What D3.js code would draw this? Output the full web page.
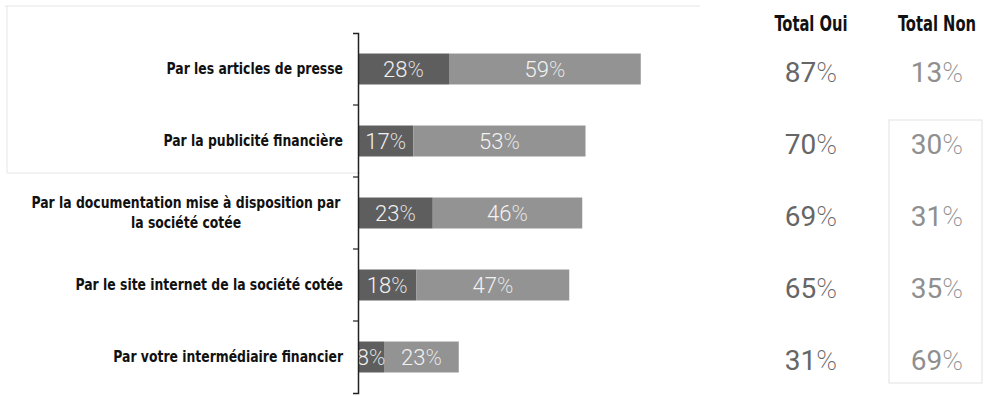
<!DOCTYPE html>
<html>
<head>
<meta charset="utf-8">
<script src="https://cdn.jsdelivr.net/npm/d3@7"></script>
<style>
  html, body { margin: 0; padding: 0; background: #fff; }
  svg { display: block; }
</style>
</head>
<body>
<svg id="chart" width="984" height="396"></svg>
<script>
// Survey answers: how investors get informed about listed companies
const categories = [
  "Par les articles de presse",
  "Par la publicité financière",
  "Par la documentation mise à disposition par|la société cotée",
  "Par le site internet de la société cotée",
  "Par votre intermédiaire financier"
];
const ouiTout = [28, 17, 23, 18, 8];     // dark segment
const ouiPlutot = [59, 53, 46, 47, 23];  // light segment
const totalOui = [87, 70, 69, 65, 31];
const totalNon = [13, 30, 31, 35, 69];
const columnHeaders = ["Total Oui", "Total Non"];

const svg = d3.select("#chart");
const labelFont = "'DejaVu Sans Condensed', 'DejaVu Sans', sans-serif";
const numFont = "Roboto, 'Open Sans', sans-serif";
const LABEL_SX = 0.89;   // narrow the bold labels horizontally
const HEAD_SX = 0.78;

// faint page frame lines
svg.append("path")
  .attr("d", "M5,6H700M7,6V173M7,173H360")
  .attr("fill", "none").attr("stroke", "#e6e6e6").attr("stroke-width", 1);

const x = d3.scaleLinear().domain([0, 100]).range([358, 683]);
const padIn = 0.57;
const y = d3.scaleBand()
  .domain(categories)
  .range([33, 393])
  .paddingInner(padIn)
  .paddingOuter(padIn / 2);

const rows = categories.map((c, i) => ({ c, a: ouiTout[i], b: ouiPlutot[i] }));

// bars
const g = svg.append("g");
g.selectAll("rect.dark").data(rows).join("rect")
  .attr("class", "dark")
  .attr("x", x(0)).attr("y", d => y(d.c))
  .attr("width", d => x(d.a) - x(0)).attr("height", y.bandwidth())
  .attr("fill", "#5e5e5e");
g.selectAll("rect.light").data(rows).join("rect")
  .attr("class", "light")
  .attr("x", d => x(d.a)).attr("y", d => y(d.c))
  .attr("width", d => x(d.a + d.b) - x(d.a)).attr("height", y.bandwidth())
  .attr("fill", "#939393");

// value with a thin percent sign
const pct = (sel, v) => {
  sel.append("tspan").text(v);
  sel.append("tspan").attr("font-weight", 200).text("%");
};

// labels inside bars
g.selectAll("text.va").data(rows).join("text")
  .attr("class", "va")
  .attr("x", d => (x(0) + x(d.a)) / 2)
  .attr("y", d => y(d.c) + y.bandwidth() / 2)
  .attr("dy", "0.36em").attr("text-anchor", "middle")
  .attr("font-family", numFont).attr("font-size", 22).attr("font-weight", 300)
  .attr("fill", "#f2f2f2")
  .each(function (d) { pct(d3.select(this), d.a); });
g.selectAll("text.vb").data(rows).join("text")
  .attr("class", "vb")
  .attr("x", d => (x(d.a) + x(d.a + d.b)) / 2)
  .attr("y", d => y(d.c) + y.bandwidth() / 2)
  .attr("dy", "0.36em").attr("text-anchor", "middle")
  .attr("font-family", numFont).attr("font-size", 22).attr("font-weight", 300)
  .attr("fill", "#f2f2f2")
  .each(function (d) { pct(d3.select(this), d.b); });

// axis: vertical line with ticks at band boundaries
const axis = d3.axisLeft(y).tickSizeInner(0).tickSizeOuter(5).tickFormat("");
const ax = svg.append("g").attr("transform", `translate(${x(0)},0)`).call(axis);
ax.select(".domain").attr("stroke", "#222").attr("stroke-width", 1.5);
const half = y.step() * padIn / 2;
ax.selectAll("line.bound").data(categories.slice(1)).join("line")
  .attr("class", "bound")
  .attr("x1", -5).attr("x2", 0)
  .attr("y1", d => y(d) - half).attr("y2", d => y(d) - half)
  .attr("stroke", "#222").attr("stroke-width", 1.2);

// category labels
svg.append("g").selectAll("text").data(categories).join("text")
  .attr("font-family", labelFont).attr("font-weight", "bold")
  .attr("font-size", 15.5).attr("fill", "#111")
  .each(function (c) {
    const t = d3.select(this);
    const lines = c.split("|");
    const cy = y(c) + y.bandwidth() / 2;
    if (lines.length === 1) {
      t.attr("text-anchor", "end")
        .attr("transform", `translate(343,${cy}) scale(${LABEL_SX},1)`)
        .attr("dy", "0.35em").text(c);
    } else {
      t.attr("text-anchor", "middle")
        .attr("transform", `translate(186,${cy}) scale(${LABEL_SX},1)`);
      lines.forEach((l, k) => {
        t.append("tspan").attr("x", 0)
          .attr("y", (k - (lines.length - 1) / 2) * 20)
          .attr("dy", "0.35em").text(l);
      });
    }
  });

// totals columns
const colX = [811, 937];
svg.append("rect")
  .attr("x", 889).attr("y", 120).attr("width", 93).attr("height", 263)
  .attr("fill", "none").attr("stroke", "#e2e2e2");

svg.append("g").selectAll("text").data(columnHeaders).join("text")
  .attr("transform", (d, i) => `translate(${colX[i]},31) scale(${HEAD_SX},1)`)
  .attr("text-anchor", "middle")
  .attr("font-family", labelFont).attr("font-weight", "bold")
  .attr("font-size", 21).attr("fill", "#111")
  .text(d => d);

const totals = [totalOui, totalNon];
const colColors = ["#666666", "#8f8f8f"];
totals.forEach((arr, j) => {
  svg.append("g").selectAll("text").data(arr).join("text")
    .attr("x", colX[j])
    .attr("y", (d, i) => y(categories[i]) + y.bandwidth() / 2 + 3)
    .attr("dy", "0.36em").attr("text-anchor", "middle")
    .attr("font-family", numFont).attr("font-size", 28)
    .attr("font-weight", 400)
    .attr("fill", colColors[j])
    .each(function (d) { pct(d3.select(this), d); });
});
</script>
</body>
</html>
